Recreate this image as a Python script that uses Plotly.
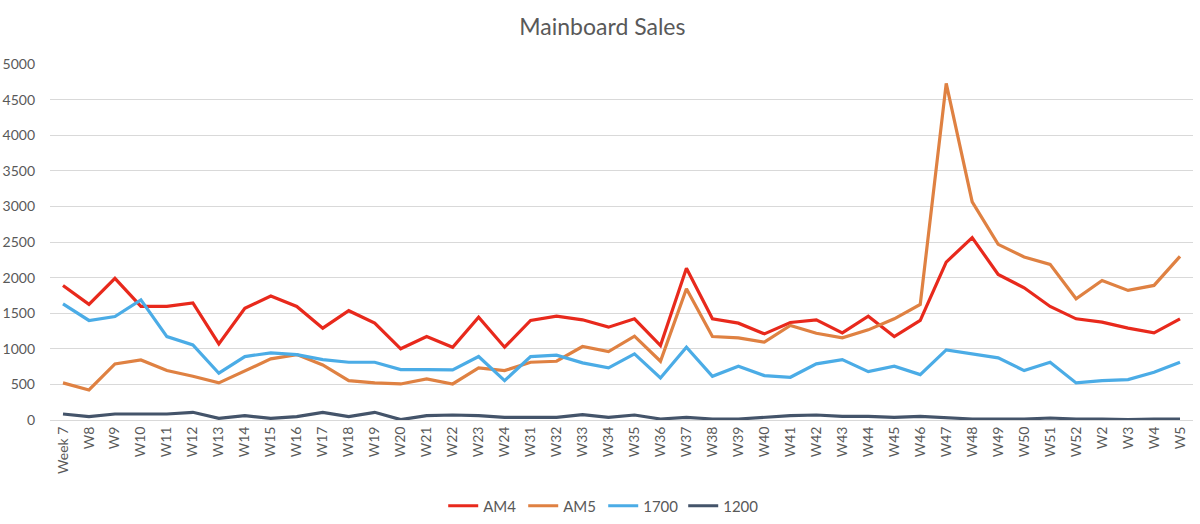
import plotly.graph_objects as go

weeks = ["Week 7", "W8", "W9", "W10", "W11", "W12", "W13", "W14", "W15", "W16", "W17", "W18",
         "W19", "W20", "W21", "W22", "W23", "W24", "W31", "W32", "W33", "W34", "W35", "W36",
         "W37", "W38", "W39", "W40", "W41", "W42", "W43", "W44", "W45", "W46", "W47", "W48",
         "W49", "W50", "W51", "W52", "W2", "W3", "W4", "W5"]

am4 = [1890, 1625, 1990, 1595, 1595, 1645, 1070, 1570, 1740, 1595, 1290, 1535, 1360, 1000,
       1172, 1022, 1445, 1022, 1398, 1459, 1407, 1304, 1421, 1046, 2130, 1421, 1360, 1210,
       1370, 1407, 1224, 1459, 1172, 1398, 2218, 2561, 2045, 1857, 1595, 1421, 1374, 1290,
       1224, 1421]

am5 = [521, 422, 788, 844, 694, 614, 521, 694, 858, 919, 774, 553, 521, 506,
       577, 506, 732, 694, 811, 825, 1032, 961, 1177, 825, 1843, 1172, 1154, 1093,
       1327, 1219, 1154, 1266, 1421, 1623, 4728, 3063, 2467, 2289, 2186, 1702, 1960, 1820,
       1890, 2298]

s1700 = [1632, 1398, 1454, 1688, 1172, 1055, 657, 891, 943, 919, 849, 811, 811, 708,
         708, 703, 891, 553, 891, 910, 802, 732, 929, 591, 1022, 614, 755, 624,
         600, 788, 849, 680, 755, 638, 985, 929, 872, 694, 811, 521, 553, 567,
         671, 811]

s1200 = [84, 47, 84, 84, 84, 108, 23, 61, 23, 47, 108, 47, 108, 5,
         61, 70, 61, 38, 38, 38, 75, 38, 70, 14, 38, 14, 14, 38,
         61, 70, 52, 52, 38, 52, 38, 14, 14, 14, 28, 14, 14, 5,
         14, 14]

series = [("AM4", am4, "#E8291C"), ("AM5", am5, "#DF8142"),
          ("1700", s1700, "#4BACE6"), ("1200", s1200, "#44546A")]

fig = go.Figure()
for name, vals, col in series:
    fig.add_trace(go.Scatter(x=weeks, y=vals, name=name, mode="lines",
                             line=dict(color=col, width=3.2)))

fig.update_layout(
    width=1200, height=524,
    margin=dict(l=50, r=7, t=64, b=104, autoexpand=False),
    paper_bgcolor="white", plot_bgcolor="white",
    font=dict(family="Lato", size=14, color="#595959"),
    title=dict(text="Mainboard Sales", x=0.502, xanchor="center",
               yref="container", y=1 - 27 / 524, yanchor="middle",
               font=dict(size=23, color="#595959")),
    showlegend=True,
    legend=dict(orientation="h", x=0.484, xanchor="center",
                yref="container", y=18 / 524, yanchor="middle",
                font=dict(size=15, color="#595959"), itemwidth=30,
                entrywidth=35, entrywidthmode="pixels"),
    xaxis=dict(type="category", range=[-0.5, len(weeks) - 0.5], tickangle=-90,
               automargin=False,
               showgrid=False, showline=True, linecolor="#D9D9D9", linewidth=1,
               ticks="", tickfont=dict(size=14)),
    yaxis=dict(range=[0, 5000], dtick=500, showgrid=True, gridcolor="#D9D9D9", gridwidth=1,
               automargin=False,
               zeroline=False, ticks="", ticklabelstandoff=14, tickfont=dict(size=14)),
)

fig.write_html("out.html")
